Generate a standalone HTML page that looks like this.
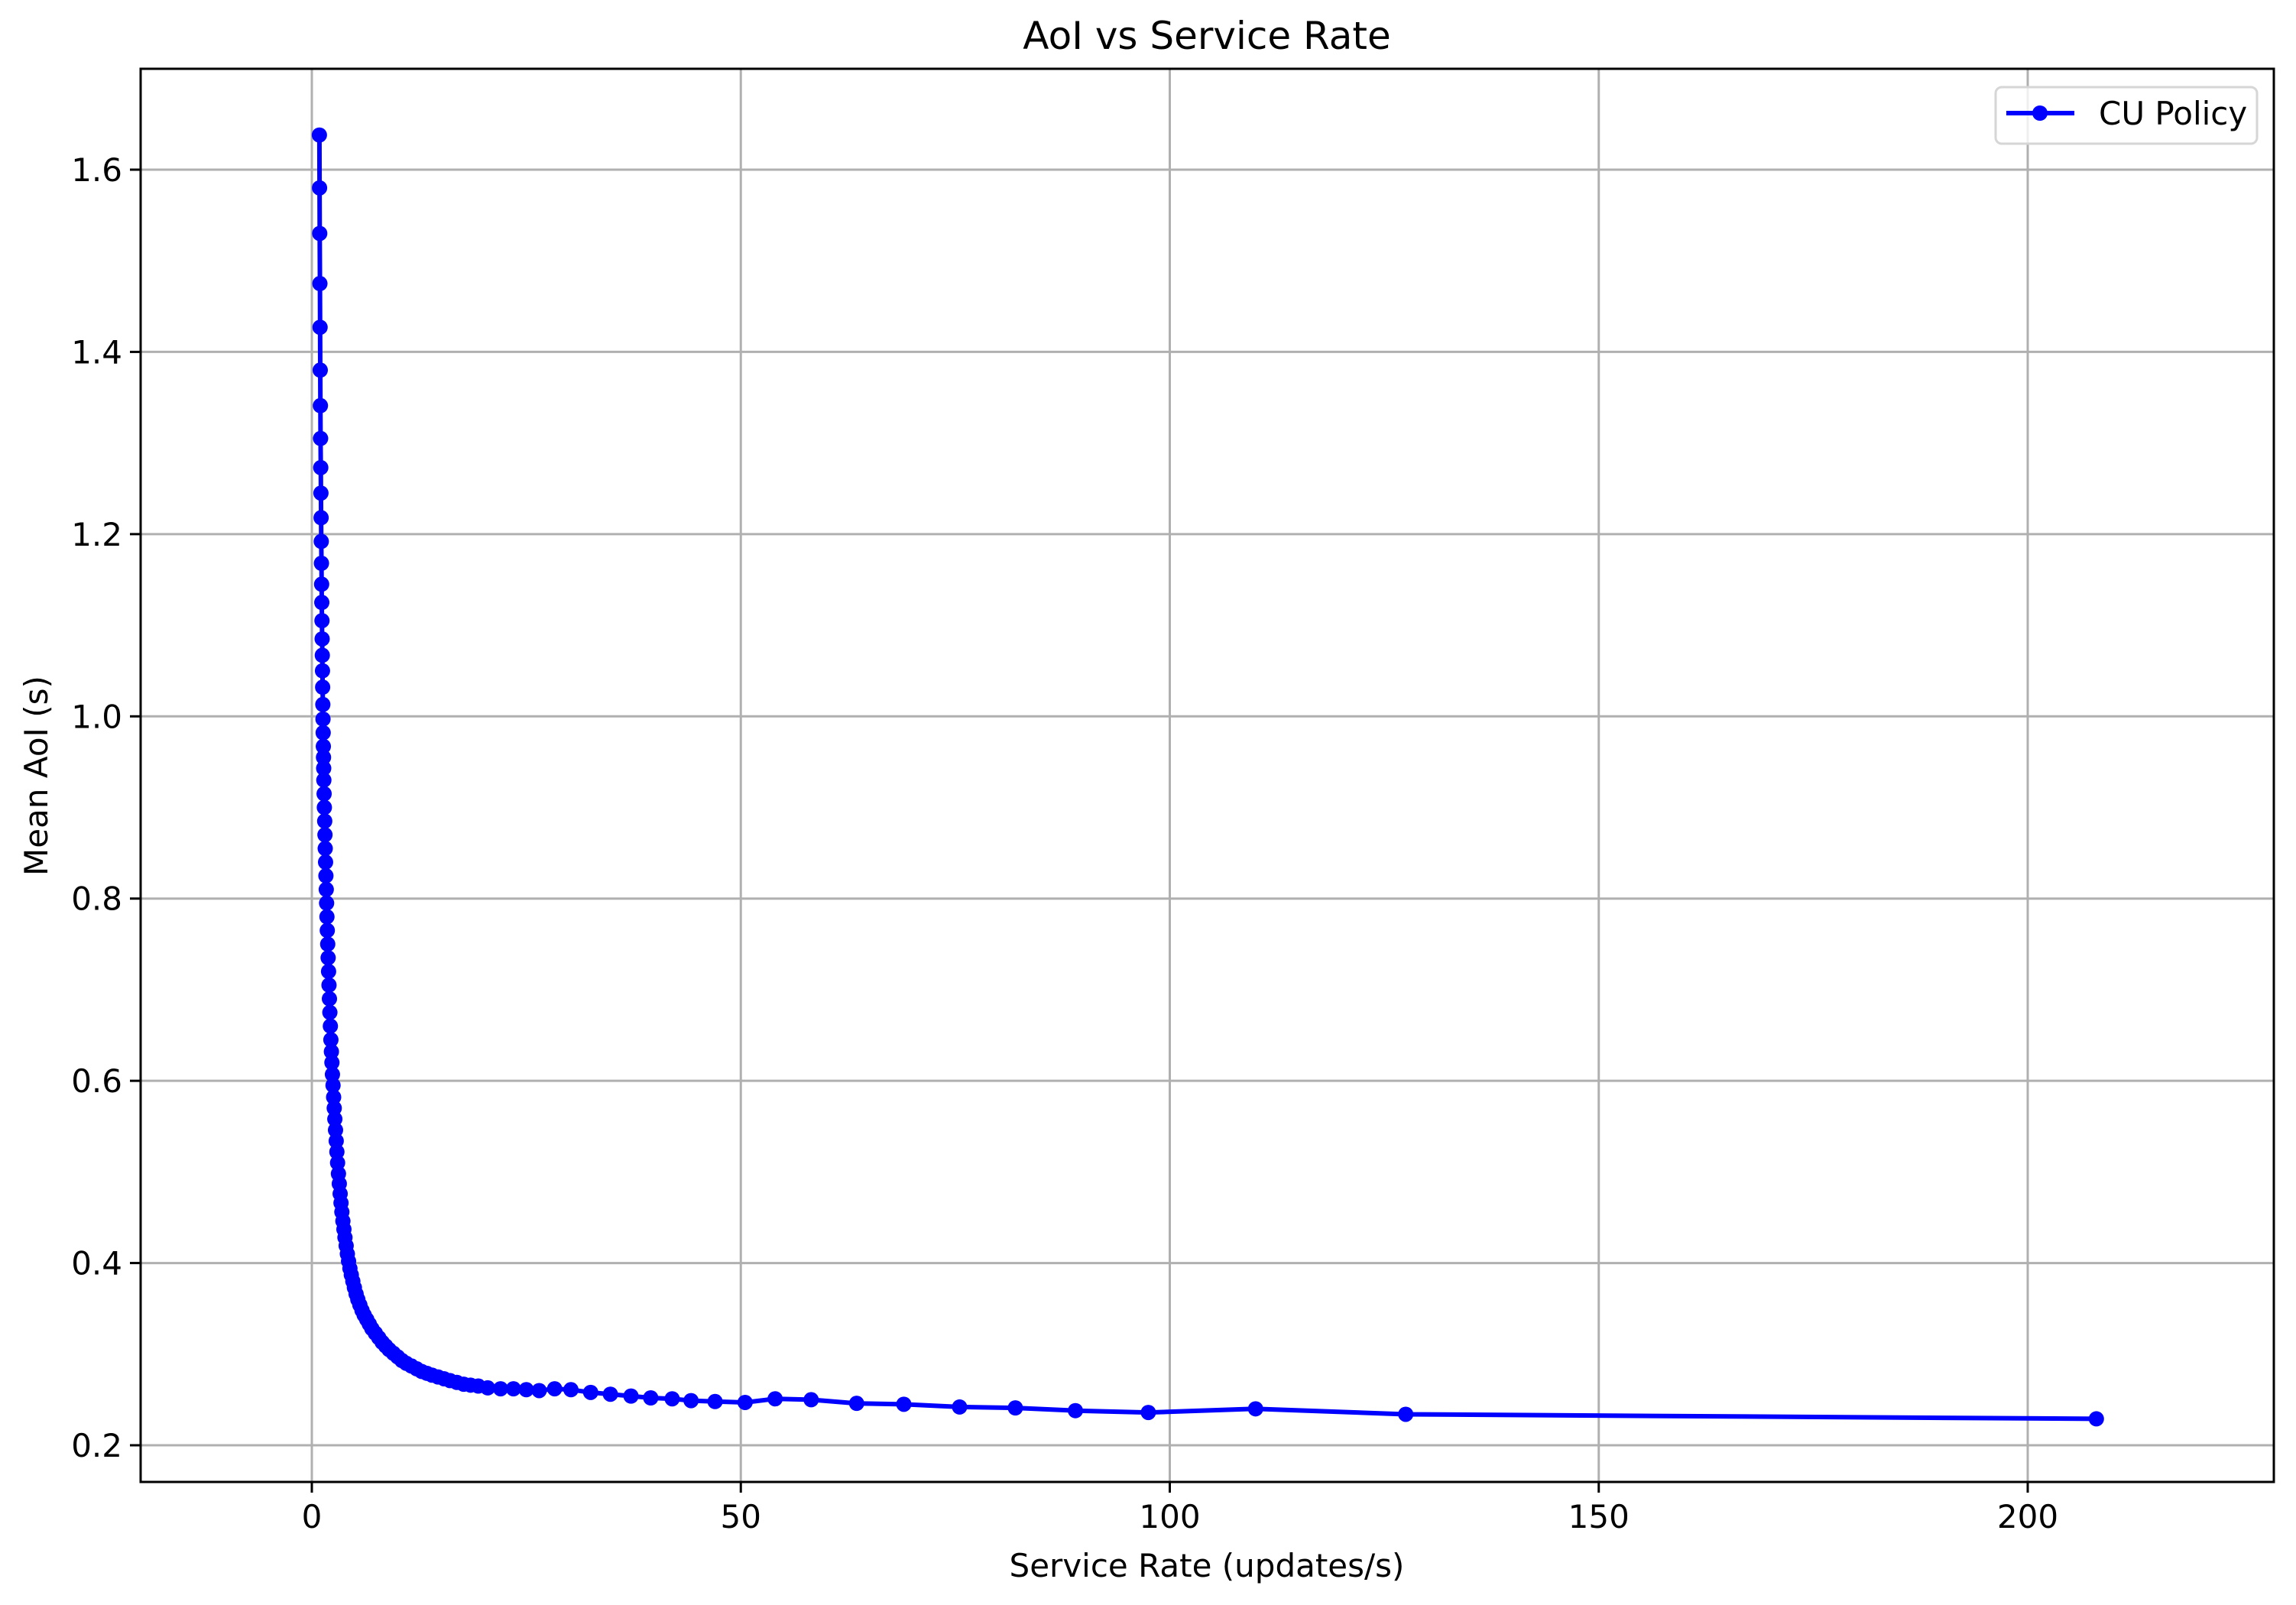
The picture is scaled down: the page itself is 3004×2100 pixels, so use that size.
<!DOCTYPE html>
<html><head><meta charset="utf-8"><style>
html,body{margin:0;padding:0;background:#fff;}
svg{display:block;font-family:"DejaVu Sans","Liberation Sans",sans-serif;}
</style></head><body>
<svg id="chart" width="3004" height="2100" viewBox="0 0 3004 2100" xmlns="http://www.w3.org/2000/svg">
<rect x="0" y="0" width="3004" height="2100" fill="#fff"/>
<g id="grid"></g>
<g id="series"></g>
<rect x="184" y="90" width="2791" height="1849" fill="none" stroke="#000" stroke-width="3"/>
<g id="ticks"></g>
<text x="1579" y="64" font-size="50" text-anchor="middle">AoI vs Service Rate</text>
<text x="1579" y="2063" font-size="42" text-anchor="middle">Service Rate (updates/s)</text>
<text x="62" y="1015" font-size="42" text-anchor="middle" transform="rotate(-90 62 1015)">Mean AoI (s)</text>
<g>
<rect x="2611" y="114" width="342" height="74" rx="8" fill="#fff" fill-opacity="0.8" stroke="#d6d6d6" stroke-width="3"/>
<line x1="2625" y1="148" x2="2714" y2="148" stroke="#0000ff" stroke-width="6"/>
<circle cx="2669" cy="148" r="10" fill="#0000ff"/>
<text x="2746" y="163" font-size="42">CU Policy</text>
</g>
</svg>
<script>
const xTicks=[0,50,100,150,200];
const yTicks=[0.2,0.4,0.6,0.8,1.0,1.2,1.4,1.6];
const xTickLabels=["0","50","100","150","200"];
const yTickLabels=["0.2","0.4","0.6","0.8","1.0","1.2","1.4","1.6"];
const rateValues=[0.88,0.9,0.92,0.94,0.96,0.98,1.0,1.02,1.04,1.06,1.08,1.1,1.12,1.14,1.16,1.18,1.2,1.22,1.24,1.26,1.28,1.3,1.32,1.34,1.36,1.38,1.4,1.43,1.46,1.5,1.53,1.56,1.6,1.64,1.68,1.72,1.76,1.8,1.85,1.9,1.95,2.0,2.05,2.1,2.16,2.22,2.28,2.34,2.4,2.47,2.54,2.61,2.68,2.76,2.84,2.92,3.0,3.1,3.2,3.3,3.4,3.5,3.62,3.74,3.86,4.0,4.14,4.28,4.44,4.6,4.78,4.96,5.16,5.36,5.6,5.85,6.1,6.4,6.7,7.0,7.4,7.8,8.2,8.6,9.0,9.5,10.0,10.5,11.0,11.6,12.2,12.8,13.4,14.0,14.7,15.4,16.1,16.9,17.7,18.5,19.4,20.5,22.0,23.5,25.0,26.5,28.3,30.2,32.5,34.8,37.2,39.5,42.0,44.2,47.0,50.5,54.0,58.2,63.5,69.0,75.5,82.0,89.0,97.5,110.0,127.5,208.0];
const aoiValues=[1.638,1.58,1.53,1.475,1.427,1.38,1.341,1.305,1.273,1.245,1.218,1.192,1.168,1.145,1.125,1.105,1.085,1.067,1.05,1.032,1.013,0.997,0.982,0.967,0.955,0.943,0.93,0.915,0.9,0.885,0.87,0.855,0.84,0.825,0.81,0.795,0.78,0.765,0.75,0.735,0.72,0.705,0.69,0.675,0.66,0.645,0.632,0.62,0.607,0.595,0.582,0.57,0.558,0.546,0.534,0.522,0.51,0.498,0.487,0.476,0.466,0.456,0.446,0.437,0.428,0.419,0.41,0.402,0.394,0.387,0.38,0.373,0.366,0.36,0.354,0.348,0.343,0.338,0.333,0.328,0.323,0.318,0.313,0.309,0.305,0.301,0.297,0.293,0.29,0.287,0.284,0.281,0.279,0.277,0.275,0.273,0.271,0.269,0.267,0.266,0.265,0.263,0.262,0.262,0.261,0.26,0.262,0.261,0.258,0.256,0.254,0.252,0.251,0.249,0.248,0.247,0.251,0.25,0.246,0.245,0.242,0.241,0.238,0.236,0.24,0.234,0.229];
const NS="http://www.w3.org/2000/svg";
const L=184,R=2975,T=90,B=1939;
function xs(v){return 408+(v-0)*(2653-408)/200;}
function ys(v){return 1891-(v-0.2)*(1891-222)/1.4;}
function mk(tag,attrs,parent){const e=document.createElementNS(NS,tag);for(const k in attrs)e.setAttribute(k,attrs[k]);parent.appendChild(e);return e;}
const grid=document.getElementById('grid'),ticks=document.getElementById('ticks'),ser=document.getElementById('series');
xTicks.forEach((t,i)=>{
  const g=mk('line',{x1:xs(t),x2:xs(t),y1:T,y2:B,stroke:'#b0b0b0','stroke-width':3},grid);
  
  
  const tk=mk('line',{x1:xs(t),x2:xs(t),y1:B,y2:B+14,stroke:'#000','stroke-width':3},ticks);
  
  
  const tx=mk('text',{x:xs(t),y:B+60,'font-size':42,'text-anchor':'middle'},ticks);
  
  
  tx.textContent=xTickLabels[i];
});
yTicks.forEach((t,i)=>{
  const g=mk('line',{x1:L,x2:R,y1:ys(t),y2:ys(t),stroke:'#b0b0b0','stroke-width':3},grid);
  
  
  const tk=mk('line',{x1:L-14,x2:L,y1:ys(t),y2:ys(t),stroke:'#000','stroke-width':3},ticks);
  
  
  const tx=mk('text',{x:L-24,y:ys(t)+15,'font-size':42,'text-anchor':'end'},ticks);
  
  
  tx.textContent=yTickLabels[i];
});
const pts=rateValues.map((x,i)=>xs(x).toFixed(1)+','+ys(aoiValues[i]).toFixed(1)).join(' ');
const pl=mk('polyline',{points:pts,fill:'none',stroke:'#0000ff','stroke-width':6,'stroke-linejoin':'round'},ser);


rateValues.forEach((x,i)=>{
  const c=mk('circle',{cx:xs(x),cy:ys(aoiValues[i]),r:10,fill:'#0000ff'},ser);
  
  
});
</script>
</body></html>
